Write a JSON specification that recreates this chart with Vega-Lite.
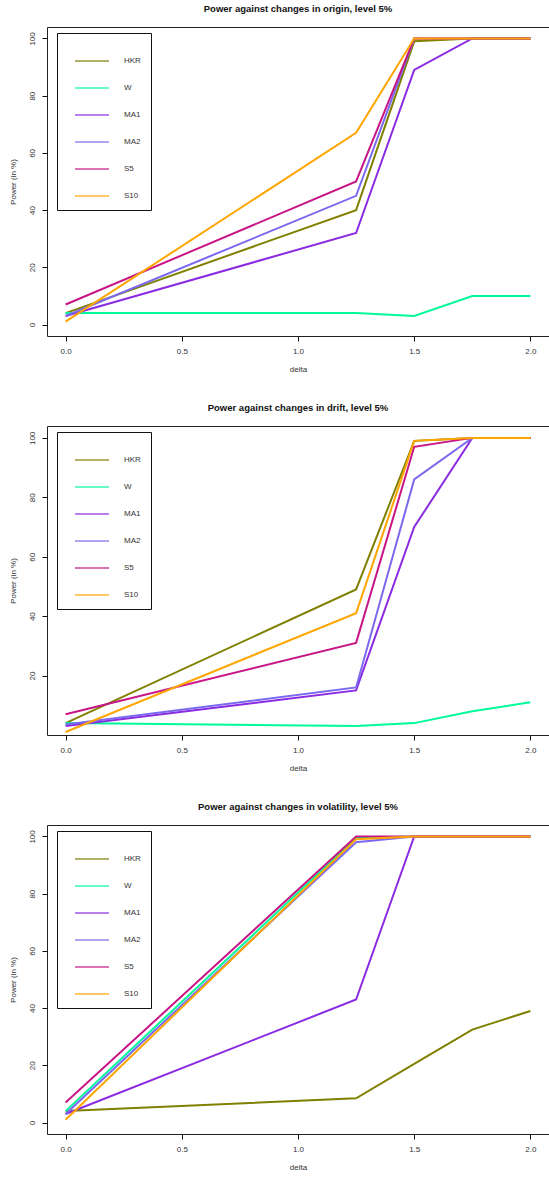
{
  "$schema": "https://vega.github.io/schema/vega-lite/v6.json",
  "padding": {"left": 8, "top": 3, "right": 0, "bottom": 0},
  "background": "white",
  "spacing": 28,
  "config": {
    "font": "Liberation Sans",
    "view": {"stroke": "#222", "strokeWidth": 1},
    "title": {"fontSize": 9.5, "fontWeight": "bold", "color": "#111", "offset": 14},
    "axis": {
      "domain": false, "grid": false, "tickColor": "#111", "tickSize": 5,
      "labelFontSize": 8, "labelColor": "#333", "titleFontSize": 8, "titleFontWeight": "normal", "titleColor": "#333"
    },
    "legend": {
      "orient": "none", "legendX": 10, "legendY": 6,
      "title": "\u00a0\u00a0\u00a0\u00a0\u00a0\u00a0\u00a0\u00a0\u00a0\u00a0\u00a0\u00a0\u00a0\u00a0\u00a0\u00a0\u00a0\u00a0\u00a0\u00a0\u00a0\u00a0\u00a0\u00a0\u00a0\u00a0\u00a0\u00a0\u00a0\u00a0\u00a0\u00a0\u00a0\u00a0",
      "titleOrient": "bottom", "titleFontSize": 10, "titlePadding": 2, "titleLimit": 200,
      "symbolType": "stroke", "symbolSize": 1156, "symbolStrokeWidth": 2, "symbolOpacity": 0.6, "symbolOffset": 7,
      "labelFontSize": 8, "labelColor": "#333", "labelOffset": 14,
      "strokeColor": "#111", "fillColor": "white", "padding": 10, "rowPadding": 5
    },
    "line": {"strokeWidth": 2}
  },
  "data": {"values": [
    {"p": "origin", "t": "HKR", "delta": 0, "power": 4},
    {"p": "origin", "t": "HKR", "delta": 1.25, "power": 40},
    {"p": "origin", "t": "HKR", "delta": 1.5, "power": 99},
    {"p": "origin", "t": "HKR", "delta": 1.75, "power": 100},
    {"p": "origin", "t": "HKR", "delta": 2, "power": 100},
    {"p": "origin", "t": "W", "delta": 0, "power": 4},
    {"p": "origin", "t": "W", "delta": 1.25, "power": 4},
    {"p": "origin", "t": "W", "delta": 1.5, "power": 3},
    {"p": "origin", "t": "W", "delta": 1.75, "power": 10},
    {"p": "origin", "t": "W", "delta": 2, "power": 10},
    {"p": "origin", "t": "MA1", "delta": 0, "power": 3},
    {"p": "origin", "t": "MA1", "delta": 1.25, "power": 32},
    {"p": "origin", "t": "MA1", "delta": 1.5, "power": 89},
    {"p": "origin", "t": "MA1", "delta": 1.75, "power": 100},
    {"p": "origin", "t": "MA1", "delta": 2, "power": 100},
    {"p": "origin", "t": "MA2", "delta": 0, "power": 3},
    {"p": "origin", "t": "MA2", "delta": 1.25, "power": 45},
    {"p": "origin", "t": "MA2", "delta": 1.5, "power": 100},
    {"p": "origin", "t": "MA2", "delta": 1.75, "power": 100},
    {"p": "origin", "t": "MA2", "delta": 2, "power": 100},
    {"p": "origin", "t": "S5", "delta": 0, "power": 7},
    {"p": "origin", "t": "S5", "delta": 1.25, "power": 50},
    {"p": "origin", "t": "S5", "delta": 1.5, "power": 100},
    {"p": "origin", "t": "S5", "delta": 1.75, "power": 100},
    {"p": "origin", "t": "S5", "delta": 2, "power": 100},
    {"p": "origin", "t": "S10", "delta": 0, "power": 1},
    {"p": "origin", "t": "S10", "delta": 1.25, "power": 67},
    {"p": "origin", "t": "S10", "delta": 1.5, "power": 100},
    {"p": "origin", "t": "S10", "delta": 1.75, "power": 100},
    {"p": "origin", "t": "S10", "delta": 2, "power": 100},

    {"p": "drift", "t": "HKR", "delta": 0, "power": 4},
    {"p": "drift", "t": "HKR", "delta": 1.25, "power": 49},
    {"p": "drift", "t": "HKR", "delta": 1.5, "power": 99},
    {"p": "drift", "t": "HKR", "delta": 1.75, "power": 100},
    {"p": "drift", "t": "HKR", "delta": 2, "power": 100},
    {"p": "drift", "t": "W", "delta": 0, "power": 4},
    {"p": "drift", "t": "W", "delta": 1.25, "power": 3},
    {"p": "drift", "t": "W", "delta": 1.5, "power": 4},
    {"p": "drift", "t": "W", "delta": 1.75, "power": 8},
    {"p": "drift", "t": "W", "delta": 2, "power": 11},
    {"p": "drift", "t": "MA1", "delta": 0, "power": 3},
    {"p": "drift", "t": "MA1", "delta": 1.25, "power": 15},
    {"p": "drift", "t": "MA1", "delta": 1.5, "power": 70},
    {"p": "drift", "t": "MA1", "delta": 1.75, "power": 100},
    {"p": "drift", "t": "MA1", "delta": 2, "power": 100},
    {"p": "drift", "t": "MA2", "delta": 0, "power": 3.5},
    {"p": "drift", "t": "MA2", "delta": 1.25, "power": 16},
    {"p": "drift", "t": "MA2", "delta": 1.5, "power": 86},
    {"p": "drift", "t": "MA2", "delta": 1.75, "power": 100},
    {"p": "drift", "t": "MA2", "delta": 2, "power": 100},
    {"p": "drift", "t": "S5", "delta": 0, "power": 7},
    {"p": "drift", "t": "S5", "delta": 1.25, "power": 31},
    {"p": "drift", "t": "S5", "delta": 1.5, "power": 97},
    {"p": "drift", "t": "S5", "delta": 1.75, "power": 100},
    {"p": "drift", "t": "S5", "delta": 2, "power": 100},
    {"p": "drift", "t": "S10", "delta": 0, "power": 1},
    {"p": "drift", "t": "S10", "delta": 1.25, "power": 41},
    {"p": "drift", "t": "S10", "delta": 1.5, "power": 99},
    {"p": "drift", "t": "S10", "delta": 1.75, "power": 100},
    {"p": "drift", "t": "S10", "delta": 2, "power": 100},

    {"p": "volatility", "t": "HKR", "delta": 0, "power": 4},
    {"p": "volatility", "t": "HKR", "delta": 1.25, "power": 8.5},
    {"p": "volatility", "t": "HKR", "delta": 1.5, "power": 20.5},
    {"p": "volatility", "t": "HKR", "delta": 1.75, "power": 32.5},
    {"p": "volatility", "t": "HKR", "delta": 2, "power": 39},
    {"p": "volatility", "t": "W", "delta": 0, "power": 4},
    {"p": "volatility", "t": "W", "delta": 1.25, "power": 99.5},
    {"p": "volatility", "t": "W", "delta": 1.5, "power": 100},
    {"p": "volatility", "t": "W", "delta": 1.75, "power": 100},
    {"p": "volatility", "t": "W", "delta": 2, "power": 100},
    {"p": "volatility", "t": "MA1", "delta": 0, "power": 3},
    {"p": "volatility", "t": "MA1", "delta": 1.25, "power": 43},
    {"p": "volatility", "t": "MA1", "delta": 1.5, "power": 100},
    {"p": "volatility", "t": "MA1", "delta": 1.75, "power": 100},
    {"p": "volatility", "t": "MA1", "delta": 2, "power": 100},
    {"p": "volatility", "t": "MA2", "delta": 0, "power": 3},
    {"p": "volatility", "t": "MA2", "delta": 1.25, "power": 98},
    {"p": "volatility", "t": "MA2", "delta": 1.5, "power": 100},
    {"p": "volatility", "t": "MA2", "delta": 1.75, "power": 100},
    {"p": "volatility", "t": "MA2", "delta": 2, "power": 100},
    {"p": "volatility", "t": "S5", "delta": 0, "power": 7},
    {"p": "volatility", "t": "S5", "delta": 1.25, "power": 100},
    {"p": "volatility", "t": "S5", "delta": 1.5, "power": 100},
    {"p": "volatility", "t": "S5", "delta": 1.75, "power": 100},
    {"p": "volatility", "t": "S5", "delta": 2, "power": 100},
    {"p": "volatility", "t": "S10", "delta": 0, "power": 1},
    {"p": "volatility", "t": "S10", "delta": 1.25, "power": 99},
    {"p": "volatility", "t": "S10", "delta": 1.5, "power": 100},
    {"p": "volatility", "t": "S10", "delta": 1.75, "power": 100},
    {"p": "volatility", "t": "S10", "delta": 2, "power": 100}
  ]},
  "resolve": {"legend": {"color": "independent"}, "scale": {"y": "independent"}},
  "vconcat": [
    {
      "title": "Power against changes in origin, level 5%",
      "width": 502, "height": 309,
      "transform": [{"filter": "datum.p === 'origin'"}],
      "mark": {"type": "line", "clip": true},
      "encoding": {
        "x": {"field": "delta", "type": "quantitative", "scale": {"domain": [-0.08, 2.08], "nice": false, "zero": false},
              "axis": {"title": "delta", "values": [0, 0.5, 1, 1.5, 2], "format": ".1f", "labelPadding": 6, "titlePadding": 10}},
        "y": {"field": "power", "type": "quantitative", "scale": {"domain": [-4, 104], "nice": false, "zero": false},
              "axis": {"title": "Power (in %)", "values": [0, 20, 40, 60, 80, 100], "labelAngle": -90, "labelPadding": 6, "titlePadding": 11}},
        "color": {"field": "t", "type": "nominal",
                  "scale": {"domain": ["HKR", "W", "MA1", "MA2", "S5", "S10"], "range": ["#808000", "#00FA9A", "#8A2BE2", "#7B68EE", "#C71585", "#FFA500"]}},
        "order": {"field": "delta", "type": "quantitative"}
      }
    },
    {
      "title": "Power against changes in drift, level 5%",
      "width": 502, "height": 309,
      "transform": [{"filter": "datum.p === 'drift'"}],
      "mark": {"type": "line", "clip": true},
      "encoding": {
        "x": {"field": "delta", "type": "quantitative", "scale": {"domain": [-0.08, 2.08], "nice": false, "zero": false},
              "axis": {"title": "delta", "values": [0, 0.5, 1, 1.5, 2], "format": ".1f", "labelPadding": 6, "titlePadding": 10}},
        "y": {"field": "power", "type": "quantitative", "scale": {"domain": [0, 104], "nice": false, "zero": false},
              "axis": {"title": "Power (in %)", "values": [20, 40, 60, 80, 100], "labelAngle": -90, "labelPadding": 6, "titlePadding": 11}},
        "color": {"field": "t", "type": "nominal",
                  "scale": {"domain": ["HKR", "W", "MA1", "MA2", "S5", "S10"], "range": ["#808000", "#00FA9A", "#8A2BE2", "#7B68EE", "#C71585", "#FFA500"]}},
        "order": {"field": "delta", "type": "quantitative"}
      }
    },
    {
      "title": "Power against changes in volatility, level 5%",
      "width": 502, "height": 309,
      "transform": [{"filter": "datum.p === 'volatility'"}],
      "mark": {"type": "line", "clip": true},
      "encoding": {
        "x": {"field": "delta", "type": "quantitative", "scale": {"domain": [-0.08, 2.08], "nice": false, "zero": false},
              "axis": {"title": "delta", "values": [0, 0.5, 1, 1.5, 2], "format": ".1f", "labelPadding": 6, "titlePadding": 10}},
        "y": {"field": "power", "type": "quantitative", "scale": {"domain": [-4, 104], "nice": false, "zero": false},
              "axis": {"title": "Power (in %)", "values": [0, 20, 40, 60, 80, 100], "labelAngle": -90, "labelPadding": 6, "titlePadding": 11}},
        "color": {"field": "t", "type": "nominal",
                  "scale": {"domain": ["HKR", "W", "MA1", "MA2", "S5", "S10"], "range": ["#808000", "#00FA9A", "#8A2BE2", "#7B68EE", "#C71585", "#FFA500"]}},
        "order": {"field": "delta", "type": "quantitative"}
      }
    }
  ]
}
